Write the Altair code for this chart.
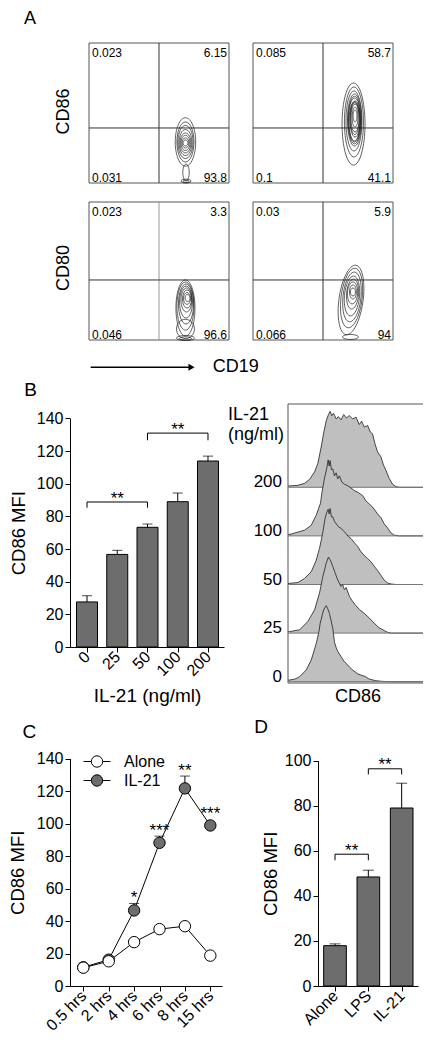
import math
import json
import altair as alt
import pandas as pd

FONT = "Liberation Sans"
BAR_GRAY = "#6d6d6d"
HIST_GRAY = "#bfbfbf"

# ---------------- Panel A : flow plots ----------------
A_quads_cd86_alone = ["0.023", "6.15", "0.031", "93.8"]
A_quads_cd86_il21 = ["0.085", "58.7", "0.1", "41.1"]
A_quads_cd80_alone = ["0.023", "3.3", "0.046", "96.6"]
A_quads_cd80_il21 = ["0.03", "5.9", "0.066", "94"]
A_gate_x = 50.0
A_gate_y_cd86 = 39.3
A_gate_y_cd80 = 43.5

# contour levels: (centre x, centre y, half width, half height, tilt deg) on 0-100 axes
A_cont_cd86_alone = [
    (68.9, 29.3, 7.3, 17.3, 0), (68.9, 29.3, 6.1, 14.3, 0), (68.9, 29.3, 5.4, 11.8, 0),
    (68.9, 28.9, 4.6, 9.3, 0), (68.9, 28.6, 3.9, 7.1, 0), (68.9, 28.6, 3.2, 5.4, 0),
    (68.9, 28.6, 2.5, 3.6, 0), (68.9, 28.6, 1.8, 2.1, 0),
    (69.3, 7.5, 2.3, 6.0, 0), (69.3, 1.4, 3.6, 1.4, 0), (69.3, 1.2, 2.2, 0.8, 0),
]
A_cont_cd86_il21 = [
    (71.8, 42.1, 8.2, 29.3, 0), (72.1, 43.6, 6.8, 25.0, 0), (72.1, 44.3, 5.7, 21.4, 0),
    (72.5, 45.0, 5.0, 18.6, 0), (72.5, 45.0, 4.6, 17.0, 0), (72.5, 45.0, 4.3, 15.7, 0),
    (72.5, 44.0, 3.9, 14.0, 0), (72.9, 45.7, 3.6, 12.9, 0), (72.7, 46.0, 3.2, 11.4, 0),
    (72.9, 46.4, 2.9, 10.0, 0), (72.9, 47.1, 2.1, 7.1, 0), (72.9, 47.9, 1.4, 4.3, 0),
]
A_cont_cd80_alone = [
    (68.9, 23.2, 6.8, 20.3, 0), (68.9, 8.0, 6.4, 7.0, 0), (68.9, 24.6, 6.1, 17.4, 0),
    (69.3, 26.1, 5.4, 14.5, 0), (69.3, 27.5, 4.6, 11.6, 0), (69.6, 29.0, 3.9, 8.7, 0),
    (70.0, 29.7, 3.2, 6.5, 0), (70.0, 30.1, 2.5, 4.3, 0), (70.4, 30.4, 1.8, 2.5, 0),
    (68.9, 1.4, 6.4, 1.8, 0), (68.9, 1.1, 4.3, 1.1, 0),
]
A_cont_cd80_il21 = [
    (70.0, 29.0, 8.6, 25.4, 8), (70.4, 30.4, 7.5, 21.7, 7), (70.7, 31.2, 6.4, 18.1, 6),
    (70.7, 31.9, 5.4, 14.5, 5), (71.1, 33.3, 4.3, 10.9, 4), (71.1, 34.1, 3.6, 8.0, 3),
    (71.4, 34.8, 2.5, 5.1, 0), (71.4, 34.8, 1.8, 2.9, 0),
    (69.6, 2.2, 5.7, 1.8, 0),
]

# ---------------- Panel B ----------------
B_doses = ["0", "25", "50", "100", "200"]
B_mean = [27.6, 56.7, 73.3, 89.0, 113.9]
B_sem = [3.8, 2.5, 2.0, 5.3, 3.0]
B_sig_from = [0, 2]
B_sig_to = [2, 4]
B_sig_y = [88.8, 131.0]
B_sig_low = [85.3, 126.6]
B_sig_text = ["**", "**"]

# histogram overlay (CD86 channel 0-100, count as % of mode)
H_rows = ["0", "25", "50", "100", "200"]
H_0_x = [0, 1.2, 5, 8.3, 13, 16.6, 18.5, 20.2, 22, 23, 24.5, 25.4, 26.5, 27.3, 28.4, 29.6, 30.8, 32,
         33.2, 34.4, 35.5, 37.9, 40, 41.5, 44, 46.2, 50, 55, 58, 62.8, 67, 72.3, 100]
H_0_h = [2, 2.2, 3.5, 6.6, 15.4, 28.6, 40, 50.5, 65, 76.8, 88, 94.3, 98, 100, 96, 90, 80, 70,
         52, 45, 40, 33, 27, 24.2, 19, 15.4, 10, 7, 3.5, 1.3, 0.5, 0, 0]
H_25_x = [0, 1.2, 8.3, 14.2, 19, 22.5, 24.9, 27.3, 28.9, 30.5, 32, 33.5, 35.5, 37.9, 39, 40.3, 41.5,
          43.9, 46, 48.6, 51, 54.5, 58, 61.6, 65, 68.7, 71, 73.5, 100]
H_25_h = [1.5, 2.1, 4.3, 15.3, 30.7, 52.6, 74.5, 92, 100, 95, 87.6, 80, 70, 61.3, 64, 57, 60,
          48.2, 42, 36, 31, 26, 20, 13, 7, 3.4, 1.2, 0, 0]
H_50_x = [0, 7.1, 11.8, 16.6, 20.1, 22.5, 24.9, 26.5, 27.7, 28.7, 29.4, 30.1, 31, 32, 33.2, 34.4, 36,
          37.9, 39.8, 41.5, 43.1, 45, 47.4, 49.8, 52.1, 54.5, 56.9, 59.2, 61.6, 64, 66.4, 68.7, 71.1,
          73.5, 77, 100]
H_50_h = [1.3, 2.6, 7.9, 16.7, 31.6, 47.4, 69, 87, 95, 99, 93, 100, 89, 89, 83, 80, 76,
          74, 70, 67, 63, 60.5, 55, 50, 43, 38, 34, 30, 24, 18.4, 12, 5.7, 2,
          0.7, 0, 0]
H_100_x = [0, 11.8, 16.6, 20.1, 23.2, 24.4, 26.1, 27.7, 28.7, 29.4, 30.1, 31, 32, 33.2, 34.4, 35.5,
           36.7, 38.4, 40.3, 42.7, 45, 47.9, 50.2, 53.3, 55.7, 58, 60.4, 64, 66.4, 68.7, 71.1, 73.5,
           75.8, 79.4, 100]
H_100_h = [1.3, 7.5, 14, 27, 43, 59, 76, 89, 100, 92, 99, 87, 88, 79, 83, 75,
           79, 71, 68, 66, 63, 59, 57, 53, 46, 42, 38, 29, 24, 16, 10.5, 4,
           1, 0, 0]
H_200_x = [0, 7.1, 11.8, 15.4, 19, 21.3, 23.7, 25.6, 27.3, 28.9, 30.1, 31.3, 32.5, 34.4, 36, 37.9,
           39.8, 41.7, 43.8, 46.2, 48.6, 50.9, 52.6, 54.5, 56.9, 58.8, 60.4, 62.1, 64, 66.4, 68.2,
           69.9, 72.3, 74.6, 77, 79.4, 100]
H_200_h = [1.7, 2.6, 5.2, 10.4, 20.4, 31.3, 53, 72.6, 87.8, 95.7, 100, 94.3, 97.4, 90, 93, 88.7,
           95.7, 91.3, 94.3, 90, 92.2, 82.6, 87, 79.1, 81.3, 72.6, 70.4, 57.4, 46.5, 40, 29.1,
           22.6, 11.7, 4.3, 0.9, 0, 0]
H_series = [(H_0_x, H_0_h), (H_25_x, H_25_h), (H_50_x, H_50_h), (H_100_x, H_100_h), (H_200_x, H_200_h)]

# ---------------- Panel C ----------------
C_times = ["0.5 hrs", "2 hrs", "4 hrs", "6 hrs", "8 hrs", "15 hrs"]
C_alone = [11.3, 15.2, 27.0, 35.0, 36.8, 18.7]
C_il21 = [11.5, 16.2, 46.5, 88.1, 121.6, 98.8]
C_il21_sem = [0.5, 0.8, 4.3, 4.1, 7.6, 1.2]
C_stars = ["", "", "*", "***", "**", "***"]

# ---------------- Panel D ----------------
D_groups = ["Alone", "LPS", "IL-21"]
D_mean = [17.9, 48.4, 79.0]
D_sem = [0.8, 3.0, 11.0]
D_sig_from = [0, 1]
D_sig_to = [1, 2]
D_sig_y = [58.5, 96.4]
D_sig_low = [55.8, 93.9]
D_sig_text = ["**", "**"]


# ================= helpers =================
def txt(x, y, s, size, align="center", baseline="middle", angle=0):
    return alt.Chart(pd.DataFrame({"t": [s]})).mark_text(
        font=FONT, fontSize=size, align=align, baseline=baseline, angle=angle, color="black"
    ).encode(x=alt.value(x), y=alt.value(y), text="t:N")


def ellipse_path(a, tilt):
    t = math.radians(tilt)
    s, c = math.sin(t), math.cos(t)
    return (f"M{s:.4f},{-c:.4f} A{a:.4f},1 {tilt:.1f} 1,1 {-s:.4f},{c:.4f} "
            f"A{a:.4f},1 {tilt:.1f} 1,1 {s:.4f},{-c:.4f} Z")


def flow_cell(conts, quads, gate_y, width, height, x0, gate_col, extra):
    sx, sy = 1.4, height / 100.0
    xs = alt.Scale(domain=[0, 100], range=[x0, x0 + 140], nice=False, zero=False)
    ys = alt.Scale(domain=[0, 100], range=[height, 0], nice=False, zero=False)
    X = lambda f: alt.X(f, scale=xs, axis=None)
    Y = lambda f: alt.Y(f, scale=ys, axis=None)
    frame = alt.Chart(pd.DataFrame({"a": [0], "b": [100]})).mark_rect(
        fillOpacity=0, stroke="#555555", strokeWidth=1
    ).encode(x=X("a:Q"), x2="b:Q", y=Y("a:Q"), y2="b:Q")
    vgate = alt.Chart(pd.DataFrame({"g": [A_gate_x], "a": [0], "b": [100]})).mark_rule(
        color=gate_col, strokeWidth=1).encode(x=X("g:Q"), y=Y("a:Q"), y2="b:Q")
    hgate = alt.Chart(pd.DataFrame({"g": [gate_y], "a": [0], "b": [100]})).mark_rule(
        color="#333333", strokeWidth=1).encode(y=Y("g:Q"), x=X("a:Q"), x2="b:Q")
    rows = []
    for cx, cy, rx, ry, tilt in conts:
        rxp, ryp = rx * sx, ry * sy
        rows.append({"cx": cx, "cy": cy, "path": ellipse_path(rxp / ryp, tilt), "size": (2 * ryp) ** 2})
    cont = alt.Chart(pd.DataFrame(rows)).mark_point(
        filled=False, color="#1c1c1c", strokeWidth=0.7, opacity=1
    ).encode(x=X("cx:Q"), y=Y("cy:Q"), shape=alt.Shape("path:N", scale=None),
             size=alt.Size("size:Q", scale=None))
    layers = [frame, vgate, hgate, cont]
    pos = [(0, 100, "left", 3, 10), (100, 100, "right", -2, 10),
           (0, 0, "left", 3, -5.5), (100, 0, "right", -2, -5.5)]
    for lab, (qx, qy, al, dx, dy) in zip(quads, pos):
        layers.append(alt.Chart(pd.DataFrame({"x": [qx], "y": [qy], "t": [lab]})).mark_text(
            align=al, baseline="middle", dx=dx, dy=dy, font=FONT, fontSize=12, color="black"
        ).encode(x=X("x:Q"), y=Y("y:Q"), text="t:N"))
    layers += extra
    return alt.layer(*layers).properties(width=width, height=height)


def bar_cell(cats, means, sems, sfrom, sto, sy_, slow, stext, xdom, xrange_, half, ydom, yticks,
             width, height, ytop, xtitle, title_x, extra, cap=10):
    xs = alt.Scale(domain=xdom, range=xrange_, nice=False, zero=False)
    ys = alt.Scale(domain=ydom, range=[height, ytop], nice=False, zero=False)
    n = len(cats)
    df = pd.DataFrame({"i": list(range(n)), "m": means,
                       "up": [m + s for m, s in zip(means, sems)]})
    df["l"] = df["i"] - half
    df["r"] = df["i"] + half
    df["z"] = 0.0
    if xtitle:
        xaxis = alt.Axis(values=list(range(n)), labelExpr=f"{json.dumps(cats)}[datum.value]",
                         labelAngle=315, labelAlign="right", labelBaseline="middle",
                         title=xtitle, titleY=48, titleBaseline="middle", titleFontSize=19)
    else:
        xaxis = alt.Axis(values=list(range(n)), labelExpr=f"{json.dumps(cats)}[datum.value]",
                         labelAngle=315, labelAlign="right", labelBaseline="middle", title=None)
    yaxis = alt.Axis(values=yticks, title="CD86 MFI", titleX=title_x, titleBaseline="middle",
                     titleAlign="center", titleAngle=270)
    X = lambda f: alt.X(f, scale=xs, axis=xaxis)
    Y = lambda f: alt.Y(f, scale=ys, axis=yaxis)
    bars = alt.Chart(df).mark_bar(fill=BAR_GRAY, stroke="black", strokeWidth=1).encode(
        x=X("l:Q"), x2="r:Q", y=Y("m:Q"), y2="z:Q")
    err = alt.Chart(df).mark_rule(color="black", strokeWidth=1).encode(
        x=X("i:Q"), y=Y("m:Q"), y2="up:Q")
    caps = alt.Chart(df).mark_tick(orient="horizontal", size=cap, thickness=1, color="black").encode(
        x=X("i:Q"), y=Y("up:Q"))
    sdf = pd.DataFrame({"a": sfrom, "b": sto, "y": sy_, "lo": slow, "t": stext})
    sdf["mid"] = (sdf["a"] + sdf["b"]) / 2
    hb = alt.Chart(sdf).mark_rule(color="black", strokeWidth=1).encode(x=X("a:Q"), x2="b:Q", y=Y("y:Q"))
    lb = alt.Chart(sdf).mark_rule(color="black", strokeWidth=1).encode(x=X("a:Q"), y=Y("lo:Q"), y2="y:Q")
    rb = alt.Chart(sdf).mark_rule(color="black", strokeWidth=1).encode(x=X("b:Q"), y=Y("lo:Q"), y2="y:Q")
    st = alt.Chart(sdf).mark_text(font=FONT, fontSize=17, baseline="alphabetic", dy=1.5,
                                  color="black").encode(x=X("mid:Q"), y=Y("y:Q"), text="t:N")
    return alt.layer(bars, err, caps, hb, lb, rb, st, *extra).properties(width=width, height=height)


# ================= layout =================
# grid of 2 columns; column 1 cells share width W1, column 2 starts at W1 + GAP
W1, GAP, W2 = 224, 24, 100

tl = flow_cell(A_cont_cd86_alone, A_quads_cd86_alone, A_gate_y_cd86, W1, 140, 19, "#333333",
               [txt(-40, -24.5, "A", 18), txt(-6.5, 68.5, "CD86", 18, angle=270)])
tr = flow_cell(A_cont_cd86_il21, A_quads_cd86_il21, A_gate_y_cd86, W2, 140, -65, "#333333", [])
arrow_line = alt.Chart(pd.DataFrame({"t": [""]})).mark_rule(color="black", strokeWidth=1.5).encode(
    x=alt.value(20.7), x2=alt.value(120), y=alt.value(165.3))
arrow_head = alt.Chart(pd.DataFrame({"t": [""]})).mark_point(
    shape="triangle-right", filled=True, color="black", size=50, opacity=1).encode(
    x=alt.value(121.5), y=alt.value(165.3))
bl = flow_cell(A_cont_cd80_alone, A_quads_cd80_alone, A_gate_y_cd80, W1, 138, 19, "#999999",
               [txt(-6.5, 66, "CD80", 18, angle=270), arrow_line, arrow_head,
                txt(142.7, 165.3, "CD19", 18, align="left")])
br = flow_cell(A_cont_cd80_il21, A_quads_cd80_il21, A_gate_y_cd80, W2, 138, -65, "#333333", [])

pb = bar_cell(B_doses, B_mean, B_sem, B_sig_from, B_sig_to, B_sig_y, B_sig_low, B_sig_text,
              [-0.562, 4.529], [0, 154], 0.347, [0, 140], list(range(0, 141, 20)),
              W1, 288, 59.4, "IL-21 (ng/ml)", -52, [txt(-39.5, 31, "B", 19)])

# histogram overlay
H_H = 324
hxs = alt.Scale(domain=[0, 100], range=[-30, 110], nice=False, zero=False)
hys = alt.Scale(domain=[0, 279], range=[H_H, 45], nice=False, zero=False)
HX = lambda f: alt.X(f, scale=hxs, axis=None)
HY = lambda f: alt.Y(f, scale=hys, axis=None)
h_layers = [alt.Chart(pd.DataFrame({"a": [0], "b": [100], "c": [0], "d": [279]})).mark_rect(
    fillOpacity=0, stroke="#555555", strokeWidth=1).encode(x=HX("a:Q"), x2="b:Q", y=HY("c:Q"), y2="d:Q")]
H_BASE, H_STEP, H_SCALE = 1.3, 48.6, 0.76
for k in reversed(range(len(H_rows))):
    xs_, hs_ = H_series[k]
    off = H_BASE + H_STEP * k
    d = pd.DataFrame({"x": xs_, "b": [off] * len(xs_), "y": [off + h * H_SCALE for h in hs_]})
    h_layers.append(alt.Chart(d).mark_area(color=HIST_GRAY, opacity=1).encode(
        x=HX("x:Q"), y=HY("y:Q"), y2="b:Q"))
    h_layers.append(alt.Chart(d).mark_line(color="#1e1e1e", strokeWidth=0.8).encode(
        x=HX("x:Q"), y=HY("y:Q")))
    h_layers.append(alt.Chart(pd.DataFrame({"a": [0], "b": [100], "y": [off]})).mark_rule(
        color="#777777", strokeWidth=1).encode(x=HX("a:Q"), x2="b:Q", y=HY("y:Q")))
lab_df = pd.DataFrame({"t": H_rows, "x": [0] * 5, "y": [H_BASE + H_STEP * k for k in range(5)]})
h_layers.append(alt.Chart(lab_df).mark_text(font=FONT, fontSize=17, align="right", baseline="alphabetic",
                                            dx=-6, color="black").encode(x=HX("x:Q"), y=HY("y:Q"), text="t:N"))
h_layers += [txt(-90, 56, "IL-21", 18, align="left"), txt(-90, 76, "(ng/ml)", 18, align="left"),
             txt(40, 338, "CD86", 18)]
ph = alt.layer(*h_layers).properties(width=W2, height=H_H)

# time course
C_H = 284
cxs = alt.Scale(domain=[-0.524, 5.46], range=[0, 152], nice=False, zero=False)
cys = alt.Scale(domain=[0, 140], range=[C_H, 56.5], nice=False, zero=False)
n_t = len(C_times)
c_xaxis = alt.Axis(values=list(range(n_t)), labelExpr=f"{json.dumps(C_times)}[datum.value]",
                   labelAngle=315, labelAlign="right", labelBaseline="middle", title=None)
c_yaxis = alt.Axis(values=list(range(0, 141, 20)), title="CD86 MFI", titleX=-52.5,
                   titleBaseline="middle", titleAlign="center", titleAngle=270)
CX = lambda f: alt.X(f, scale=cxs, axis=c_xaxis)
CY = lambda f: alt.Y(f, scale=cys, axis=c_yaxis)
long = pd.DataFrame({
    "i": list(range(n_t)) * 2,
    "v": C_il21 + C_alone,
    "s": ["IL-21"] * n_t + ["Alone"] * n_t,
})
c_line = alt.Chart(long).mark_line(color="black", strokeWidth=1).encode(
    x=CX("i:Q"), y=CY("v:Q"), detail="s:N")
cerr_df = pd.DataFrame({"i": list(range(n_t)), "m": C_il21,
                        "up": [m + s for m, s in zip(C_il21, C_il21_sem)], "t": C_stars})
cerr_df["sy"] = [max(u, m + 3.7) for u, m in zip(cerr_df["up"], cerr_df["m"])]
c_err = alt.Chart(cerr_df).mark_rule(color="black", strokeWidth=1).encode(x=CX("i:Q"), y=CY("m:Q"), y2="up:Q")
c_cap = alt.Chart(cerr_df).mark_tick(orient="horizontal", size=10, thickness=1, color="black").encode(
    x=CX("i:Q"), y=CY("up:Q"))
LEG_PATH = "M-1.35,0L-0.57,0M0.57,0L1.35,0M-0.57,0A0.57,0.57 0 1,1 0.57,0A0.57,0.57 0 1,1 -0.57,0Z"
c_pts = alt.Chart(long).mark_point(filled=True, shape="circle", size=130, stroke="black",
                                   strokeWidth=1, opacity=1).encode(
    x=CX("i:Q"), y=CY("v:Q"),
    fill=alt.Fill("s:N", scale=alt.Scale(domain=["Alone", "IL-21"], range=["white", BAR_GRAY]),
                  legend=alt.Legend(orient="none", legendX=16.5, legendY=708, title=None,
                                    symbolType=LEG_PATH, symbolSize=400, symbolStrokeColor="black",
                                    symbolStrokeWidth=1, symbolOpacity=1, labelFont=FONT,
                                    labelFontSize=16, labelColor="black", labelOffset=16.5,
                                    rowPadding=0, padding=0)))
c_star = alt.Chart(cerr_df).mark_text(font=FONT, fontSize=17, baseline="alphabetic", color="black").encode(
    x=CX("i:Q"), y=CY("sy:Q"), text="t:N")
pc = alt.layer(c_line, c_err, c_cap, c_pts, c_star, txt(-40.7, 29.7, "C", 19)).properties(width=W1, height=C_H)

pd_ = bar_cell(D_groups, D_mean, D_sem, D_sig_from, D_sig_to, D_sig_y, D_sig_low, D_sig_text,
               [-0.51, 2.49], [0, 100], 0.34, [0, 100], list(range(0, 101, 20)),
               W2, 284, 58.7, "", -47.5, [txt(-57, 24.7, "D", 19)], cap=11)

chart = alt.concat(tl, tr, bl, br, pb, ph, pc, pd_, columns=2,
                   spacing={"row": 19, "column": GAP}, bounds="flush").properties(
    autosize=alt.AutoSizeParams(type="none"),
    padding={"left": 62, "top": 35, "right": 353, "bottom": 996},
    background="white",
).configure_view(strokeWidth=0).configure_axis(
    domainColor="black", domainWidth=1, tickColor="black", tickWidth=1, tickSize=5,
    labelFont=FONT, labelFontSize=16, labelColor="black", labelPadding=2, labelOverlap=False,
    titleFont=FONT, titleFontSize=18.5, titleColor="black", titleFontWeight="normal", grid=False,
)

chart.save("out.html", embed_options={"renderer": "svg", "actions": False})
